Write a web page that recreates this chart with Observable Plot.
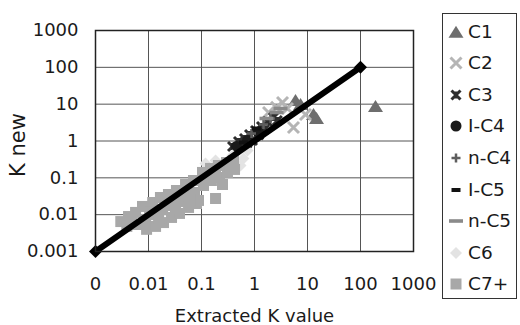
<!DOCTYPE html>
<html><head><meta charset="utf-8">
<script src="https://cdn.jsdelivr.net/npm/d3@7"></script>
<script src="https://cdn.jsdelivr.net/npm/@observablehq/plot@0.6"></script>
<style>
body{margin:0;background:#fff;}
#wrap{position:relative;width:520px;height:325px;overflow:hidden;font-family:"DejaVu Sans",sans-serif;color:#1a1a1a;background:#fff}
#wrap svg.chart{position:absolute;left:0;top:0}
.legend{position:absolute;left:442px;top:13px;width:75px;height:286px;border:1px solid #333;box-sizing:border-box;background:#fff}
.item{position:absolute;left:0;width:75px;height:24px}
.item svg{position:absolute;left:3px;top:0}
.item span{position:absolute;left:25px;top:0;line-height:24px;font-size:18.5px;white-space:nowrap}
</style>
</head><body><div id="wrap"></div>
<script>
// ---- data ----
const xTicks = [0.001, 0.01, 0.1, 1, 10, 100, 1000];
const xTickLabels = ["0", "0.01", "0.1", "1", "10", "100", "1000"];
const yTicks = [0.001, 0.01, 0.1, 1, 10, 100, 1000];
const yTickLabels = ["0.001", "0.01", "0.1", "1", "10", "100", "1000"];
const xTitle = "Extracted K value";
const yTitle = "K new";
const seriesNames = ["C1", "C2", "C3", "I-C4", "n-C4", "I-C5", "n-C5", "C6", "C7+"];

const c1X = [5.94, 7.4, 12.98, 14.8, 192];
const c1Y = [12.6, 9.8, 5.25, 4.09, 8.65];
const c2X = [3.38, 4.19, 9.17, 5.44, 1.84, 2.6];
const c2Y = [11.1, 7.64, 5.25, 2.33, 5.94, 8.2];
const c3X = [0.385, 0.499, 0.647, 0.805, 1.044, 1.355, 1.759, 2.283, 0.569, 0.916, 1.545, 0.44, 0.72, 1.2, 2.7];
const c3Y = [0.710, 0.970, 1.170, 1.503, 1.929, 2.477, 3.388, 4.348, 0.667, 1.032, 2.054, 0.58, 0.86, 1.45, 3.6];
const ic4X = [0.457, 0.738, 1.189];
const ic4Y = [0.710, 1.032, 1.702];
const nc4X = [0.877, 1.479, 2.004];
const nc4Y = [1.600, 2.806, 4.085];
const ic5X = [0.620, 1.091];
const ic5Y = [0.911, 2.186];
const nc5X = [1.684, 2.602, 3.096];
const nc5Y = [4.085, 5.94, 7.64];
const c6X = [0.119, 0.184, 0.385, 0.619, 0.738, 0.545];
const c6Y = [0.245, 0.296, 0.405, 0.335, 0.552, 0.216];
const c7X = [0.0030,0.0042,0.0039,0.0057,0.0062,0.0077,0.0088,0.0092,0.012,0.013,0.0136,0.0168,0.0184,0.0192,0.0238,0.026,0.0272,0.0337,0.0368,0.0385,0.050,0.052,0.057,0.0706,0.0738,0.0805,0.1045,0.109,0.0877,0.148,0.154,0.209,0.219,0.249,0.296,0.309,0.402,0.420,0.184,
             0.0048,0.0105,0.0219,0.0457,0.0957,0.184,0.352,0.0155,0.0323,0.0619];
const c7Y = [0.0065,0.0089,0.0048,0.0115,0.0054,0.0167,0.0074,0.0040,0.0214,0.0101,0.0048,0.0292,0.0138,0.0061,0.0353,0.0177,0.0084,0.0453,0.0228,0.0108,0.0659,0.0311,0.0157,0.0847,0.040,0.0201,0.140,0.0619,0.0243,0.180,0.0847,0.216,0.102,0.0659,0.261,0.140,0.296,0.169,0.0275,
             0.0070,0.0115,0.0243,0.0453,0.0847,0.140,0.203,0.0079,0.0147,0.0243];
const lineX = [0.001, 100];
const lineY = [0.001, 100];

// ---- symbols (styles) ----
const tri = (s) => ({draw(c){c.moveTo(0,-s*0.85);c.lineTo(s,s*0.75);c.lineTo(-s,s*0.75);c.closePath();}});
const times = (s) => ({draw(c){c.moveTo(-s,-s);c.lineTo(s,s);c.moveTo(-s,s);c.lineTo(s,-s);}});
const star = (s) => ({draw(c){c.moveTo(-s,-s);c.lineTo(s,s);c.moveTo(-s,s);c.lineTo(s,-s);c.moveTo(0,-s*0.8);c.lineTo(0,s*0.8);}});
const circ = (s) => ({draw(c){c.moveTo(s,0);c.arc(0,0,s,0,2*Math.PI);}});
const plus = (s) => ({draw(c){c.moveTo(-s,0);c.lineTo(s,0);c.moveTo(0,-s);c.lineTo(0,s);}});
const dash = (w,h) => ({draw(c){c.rect(-w,-h,2*w,2*h);}});
const rhomb = (s) => ({draw(c){c.moveTo(0,-s);c.lineTo(s,0);c.lineTo(0,s);c.lineTo(-s,0);c.closePath();}});
const sq = (s) => ({draw(c){c.rect(-s,-s,2*s,2*s);}});

const styles = {
  "C1":  {sym: tri(7.5), fill: "#6e6e6e", stroke: "none", sw: 0},
  "C2":  {sym: times(5.5), fill: "none", stroke: "#b5b5b5", sw: 3},
  "C3":  {sym: star(4.5), fill: "none", stroke: "#2e2e2e", sw: 3},
  "I-C4":{sym: circ(5.5), fill: "#1a1a1a", stroke: "none", sw: 0},
  "n-C4":{sym: plus(4.5), fill: "none", stroke: "#5e5e5e", sw: 2.5},
  "I-C5":{sym: dash(4.5,2), fill: "#111111", stroke: "none", sw: 0},
  "n-C5":{sym: dash(7,1.8), fill: "#8a8a8a", stroke: "none", sw: 0},
  "C6":  {sym: rhomb(6), fill: "#e3e3e3", stroke: "none", sw: 0},
  "C7+": {sym: sq(5.5), fill: "#a8a8a8", stroke: "none", sw: 0}
};

const seriesData = {
  "C1": [c1X, c1Y], "C2": [c2X, c2Y], "C3": [c3X, c3Y], "I-C4": [ic4X, ic4Y],
  "n-C4": [nc4X, nc4Y], "I-C5": [ic5X, ic5Y], "n-C5": [nc5X, nc5Y], "C6": [c6X, c6Y], "C7+": [c7X, c7Y]
};
const toRows = (xs, ys) => xs.map((x, i) => ({x, y: ys[i]}));

const dotMarks = seriesNames.map(name => {
  const st = styles[name];
  const [xs, ys] = seriesData[name];
  return Plot.dot(toRows(xs, ys), {x: "x", y: "y", symbol: st.sym, fill: st.fill, stroke: st.stroke, strokeWidth: st.sw});
});

const lineRows = toRows(lineX, lineY);
const xLab = xTicks.map((v, i) => ({v, label: xTickLabels[i]}));
const yLab = yTicks.map((v, i) => ({v, label: yTickLabels[i]}));

const chart = Plot.plot({
  width: 520, height: 325,
  marginLeft: 95, marginRight: 107, marginTop: 30, marginBottom: 74,
  x: {type: "log", domain: [0.001, 1000], axis: null},
  y: {type: "log", domain: [0.001, 1000], axis: null},
  style: {fontFamily: "DejaVu Sans", fontSize: "18px", color: "#1a1a1a", background: "transparent", overflow: "visible"},
  marks: [
    Plot.ruleX(xTicks, {stroke: "#555", strokeWidth: 1}),
    Plot.ruleY(yTicks, {stroke: "#555", strokeWidth: 1}),
    ...dotMarks,
    Plot.line(lineRows, {x: "x", y: "y", stroke: "#000", strokeWidth: 6}),
    Plot.dot(lineRows, {x: "x", y: "y", symbol: rhomb(6.5), fill: "#000", stroke: "none"}),
    Plot.frame({stroke: "#222", strokeWidth: 1.5}),
    Plot.text(xLab, {x: "v", text: "label", frameAnchor: "bottom", textAnchor: "middle", lineAnchor: "middle", dy: 33, fontSize: 18, fill: "#1a1a1a"}),
    Plot.text(yLab, {y: "v", text: "label", frameAnchor: "left", textAnchor: "end", lineAnchor: "middle", dx: -17, fontSize: 18, fill: "#1a1a1a"}),
    Plot.text([xTitle], {frameAnchor: "bottom", textAnchor: "middle", lineAnchor: "middle", dy: 65, fontSize: 18, fill: "#1a1a1a"}),
    Plot.text([yTitle], {frameAnchor: "left", textAnchor: "middle", lineAnchor: "middle", rotate: -90, dx: -77, dy: 4, fontSize: 21, fill: "#1a1a1a"})
  ]
});
chart.classList.add("chart");
const wrap = document.getElementById("wrap");
wrap.appendChild(chart);

// legend
const legend = document.createElement("div");
legend.className = "legend";
wrap.appendChild(legend);
seriesNames.forEach((name, i) => {
  const st = styles[name];
  const item = document.createElement("div");
  item.className = "item";
  item.style.top = (5.5 + i * 31.6) + "px";
  const svg = d3.create("svg").attr("width", 20).attr("height", 24);
  svg.append("path")
    .attr("transform", "translate(10,12)")
    .attr("d", d3.symbol(st.sym)())
    .attr("fill", st.fill)
    .attr("stroke", st.stroke)
    .attr("stroke-width", st.sw);
  item.appendChild(svg.node());
  const sp = document.createElement("span");
  sp.textContent = name;
  item.appendChild(sp);
  legend.appendChild(item);
});
</script>
</body></html>
